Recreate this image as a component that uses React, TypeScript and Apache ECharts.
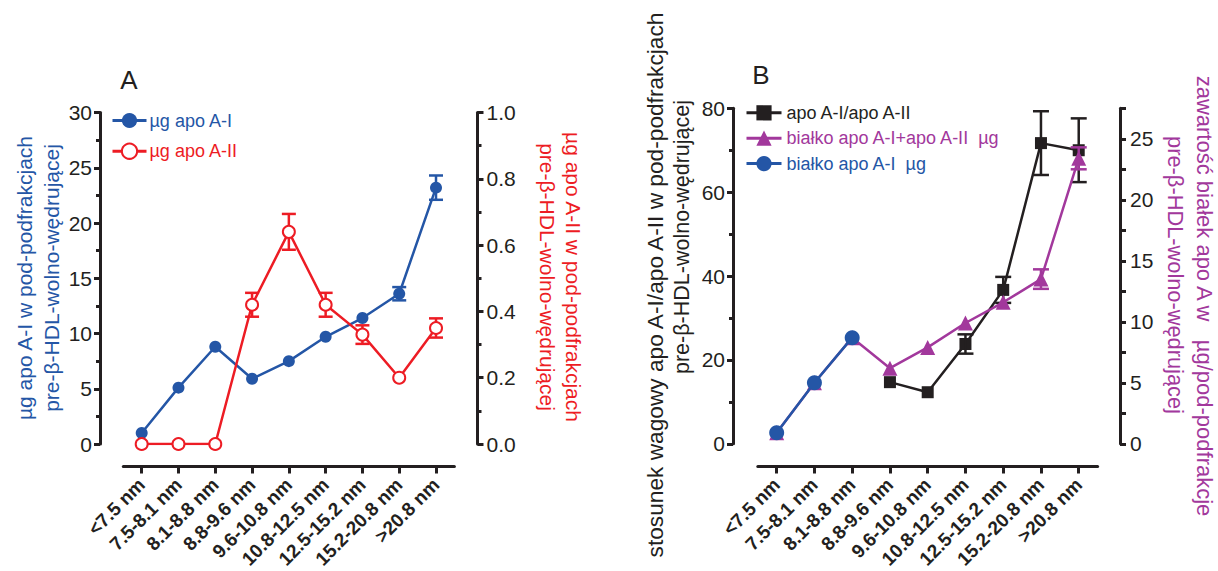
import React, { useEffect, useRef } from "react";
import * as echarts from "echarts";

// ---------- data ----------
const categories = [
  "<7.5 nm",
  "7.5-8.1 nm",
  "8.1-8.8 nm",
  "8.8-9.6 nm",
  "9.6-10.8 nm",
  "10.8-12.5 nm",
  "12.5-15.2 nm",
  "15.2-20.8 nm",
  ">20.8 nm",
];

// Panel A
const apoAI = [1.0, 5.1, 8.8, 5.9, 7.5, 9.7, 11.4, 13.6, 23.2];
const apoAIErr = [0, 0, 0, 0, 0, 0, 0, 0.6, 1.1];
const apoAII = [0, 0, 0, 0.42, 0.64, 0.42, 0.33, 0.2, 0.35];
const apoAIIErr = [0, 0, 0, 0.036, 0.054, 0.036, 0.028, 0, 0.029];

// Panel B
const ratio = [null, null, null, 14.7, 12.3, 23.8, 36.7, 71.7, 70.0];
const ratioErr = [0, 0, 0, 0, 0, 2.3, 3.1, 7.6, 7.6];
const totalApoA = [0.9, 5.0, 8.7, 6.2, 7.9, 9.9, 11.6, 13.5, 23.4];
const totalApoAErr = [0, 0, 0, 0, 0, 0, 0, 0.8, 0.9];
const apoAIB = [0.9, 5.0, 8.7, null, null, null, null, null, null];

const nameA1 = "µg apo A-I";
const nameA2 = "µg apo A-II";
const nameB1 = "apo A-I/apo A-II";
const nameB2 = "białko apo A-I+apo A-II  µg";
const nameB3 = "białko apo A-I  µg";

// ---------- styles ----------
const FONT = "Liberation Sans, Arial, Helvetica, sans-serif";
const BLACK = "#231f20";
const BLUE = "#2456a6";
const RED = "#ed1c24";
const MAGENTA = "#a2389c";

function errData(vals: (number | null)[], errs: number[]) {
  const out: number[][] = [];
  vals.forEach((v, i) => {
    if (v != null && errs[i] > 0) out.push([i, v - errs[i], v + errs[i]]);
  });
  return out;
}

function errSeries(
  vals: (number | null)[],
  errs: number[],
  color: string,
  xi: number,
  yi: number,
  cap: number
) {
  return {
    type: "custom",
    xAxisIndex: xi,
    yAxisIndex: yi,
    data: errData(vals, errs),
    encode: { x: 0, y: [1, 2] },
    z: 3,
    renderItem: (params: any, api: any) => {
      const x = api.value(0);
      const lo = api.coord([x, api.value(1)]);
      const hi = api.coord([x, api.value(2)]);
      const style = { stroke: color, lineWidth: 2.5, fill: "none" };
      return {
        type: "group",
        children: [
          { type: "line", shape: { x1: lo[0], y1: lo[1], x2: hi[0], y2: hi[1] }, style },
          { type: "line", shape: { x1: lo[0] - cap / 2, y1: lo[1], x2: lo[0] + cap / 2, y2: lo[1] }, style },
          { type: "line", shape: { x1: hi[0] - cap / 2, y1: hi[1], x2: hi[0] + cap / 2, y2: hi[1] }, style },
        ],
      };
    },
  };
}

function xAxisDef(gridIndex: number, offset: number) {
  return {
    type: "category",
    gridIndex,
    data: categories,
    position: "bottom",
    offset,
    boundaryGap: true,
    axisLine: { show: true, onZero: false, lineStyle: { color: BLACK, width: 3 } },
    axisTick: { show: true, alignWithLabel: true, length: 7, lineStyle: { color: BLACK, width: 3 } },
    axisLabel: {
      rotate: 45,
      interval: 0,
      margin: 15,
      color: BLACK,
      fontSize: 19,
      fontWeight: "bold",
      fontFamily: FONT,
    },
    splitLine: { show: false },
  };
}

function yAxisDef(
  gridIndex: number,
  position: string,
  offset: number,
  min: number,
  max: number,
  interval: number,
  minor: boolean,
  formatter: (v: number) => string,
  margin: number
) {
  return {
    type: "value",
    gridIndex,
    position,
    offset,
    min,
    max,
    interval,
    axisLine: { show: true, onZero: false, lineStyle: { color: BLACK, width: 3 } },
    axisTick: { show: true, length: 6, lineStyle: { color: BLACK, width: 3 } },
    minorTick: { show: minor, splitNumber: 2, length: 4, lineStyle: { color: BLACK, width: 3 } },
    axisLabel: { color: BLACK, fontSize: 21, fontFamily: FONT, margin, formatter },
    splitLine: { show: false },
    minorSplitLine: { show: false },
  };
}

function vtext(text: string, x: number, y: number, rot: number, color: string, size = 21) {
  return {
    type: "text",
    x,
    y,
    rotation: rot,
    z: 10,
    style: {
      text,
      fill: color,
      font: `${size}px ${FONT}`,
      align: "center",
      verticalAlign: "middle",
      textAlign: "center",
      textVerticalAlign: "middle",
    },
  };
}

export default function App() {
  const ref = useRef<HTMLDivElement>(null);

  useEffect(() => {
    if (!ref.current) return;
    const chart = echarts.init(ref.current, undefined, { renderer: "svg" });

    const option: any = {
      animation: false,
      backgroundColor: "#ffffff",
      textStyle: { fontFamily: FONT },
      grid: [
        { left: 123.3, right: 1218 - 454.4, top: 112.5, bottom: 571 - 445.5, containLabel: false },
        { left: 757.8, right: 1218 - 1097.6, top: 108.3, bottom: 571 - 450, containLabel: false },
      ],
      xAxis: [xAxisDef(0, 22.5), xAxisDef(1, 22.7)],
      yAxis: [
        yAxisDef(0, "left", 23.3, 0, 30, 5, true, (v) => String(v), 8),
        yAxisDef(0, "right", 23.1, 0, 1, 0.2, true, (v) => v.toFixed(1), 9),
        yAxisDef(1, "left", 24.8, 0, 80, 20, true, (v) => String(v), 8),
        yAxisDef(1, "right", 22.4, 0, 27.5, 2.5, false, (v) => (Math.abs(v % 5) < 1e-6 ? String(v) : ""), 10),
      ],
      legend: [
        {
          orient: "vertical",
          left: 111,
          top: 111.5,
          padding: 0,
          itemWidth: 34,
          itemHeight: 19,
          itemGap: 12.7,
          lineStyle: { width: 3 },
          textStyle: { fontSize: 18, fontFamily: FONT, padding: [0, 0, 0, -2] },
          data: [
            { name: nameA1, textStyle: { color: BLUE } },
            { name: nameA2, textStyle: { color: RED } },
          ],
        },
        {
          orient: "vertical",
          left: 745,
          top: 103.8,
          padding: 0,
          itemWidth: 35,
          itemHeight: 19,
          itemGap: 7.4,
          lineStyle: { width: 3 },
          textStyle: { fontSize: 18, fontFamily: FONT },
          data: [
            { name: nameB1, textStyle: { color: BLACK } },
            { name: nameB2, textStyle: { color: MAGENTA } },
            { name: nameB3, textStyle: { color: BLUE } },
          ],
        },
      ],
      series: [
        // Panel A
        {
          name: nameA1,
          type: "line",
          xAxisIndex: 0,
          yAxisIndex: 0,
          data: apoAI,
          symbol: "circle",
          symbolSize: 12,
          color: BLUE,
          lineStyle: { width: 2.5, color: BLUE },
          itemStyle: { color: BLUE },
          z: 2,
        },
        errSeries(apoAI, apoAIErr, BLUE, 0, 0, 14),
        {
          name: nameA2,
          type: "line",
          xAxisIndex: 0,
          yAxisIndex: 1,
          data: apoAII,
          symbol: "emptyCircle",
          symbolSize: 12,
          color: RED,
          lineStyle: { width: 2.5, color: RED },
          itemStyle: { color: RED, borderColor: RED, borderWidth: 2.5 },
          z: 4,
        },
        errSeries(apoAII, apoAIIErr, RED, 0, 1, 14),
        // Panel B
        {
          name: nameB1,
          type: "line",
          xAxisIndex: 1,
          yAxisIndex: 2,
          data: ratio,
          symbol: "rect",
          symbolSize: 12,
          color: BLACK,
          lineStyle: { width: 2.5, color: BLACK },
          itemStyle: { color: BLACK },
          z: 2,
        },
        errSeries(ratio, ratioErr, BLACK, 1, 2, 16),
        {
          name: nameB2,
          type: "line",
          xAxisIndex: 1,
          yAxisIndex: 3,
          data: totalApoA,
          symbol: "triangle",
          symbolSize: 15,
          color: MAGENTA,
          lineStyle: { width: 2.5, color: MAGENTA },
          itemStyle: { color: MAGENTA },
          z: 4,
        },
        errSeries(totalApoA, totalApoAErr, MAGENTA, 1, 3, 16),
        {
          name: nameB3,
          type: "line",
          xAxisIndex: 1,
          yAxisIndex: 3,
          data: apoAIB,
          symbol: "circle",
          symbolSize: 15,
          color: BLUE,
          lineStyle: { width: 2.5, color: BLUE },
          itemStyle: { color: BLUE },
          z: 5,
        },
      ],
      graphic: [
        vtext("A", 129, 80, 0, BLACK, 26),
        vtext("B", 761, 75, 0, BLACK, 26),
        vtext("µg apo A-I w pod-podfrakcjach", 24, 278, Math.PI / 2, BLUE),
        vtext("pre-β-HDL-wolno-wędrującej", 51, 278, Math.PI / 2, BLUE),
        vtext("µg apo A-II w pod-podfrakcjach", 573, 277, -Math.PI / 2, RED),
        vtext("pre-β-HDL-wolno-wędrującej", 547, 277, -Math.PI / 2, RED),
        vtext("stosunek wagowy apo A-I/apo A-II w pod-podfrakcjach", 655, 285, Math.PI / 2, BLACK, 22.7),
        vtext("pre-β-HDL-wolno-wędrującej", 682, 237, Math.PI / 2, BLACK, 21.5),
        vtext("zawartość białek apo A w   µg/pod-podfrakcje", 1204, 296, -Math.PI / 2, MAGENTA, 22),
        vtext("pre-β-HDL-wolno-wędrującej", 1175, 275, -Math.PI / 2, MAGENTA, 21.8),
      ],
    };

    chart.setOption(option);
    return () => {
      chart.dispose();
    };
  }, []);

  return (
    <div
      ref={ref}
      style={{ position: "absolute", left: 0, top: 0, width: 1218, height: 571, background: "#fff" }}
    />
  );
}
